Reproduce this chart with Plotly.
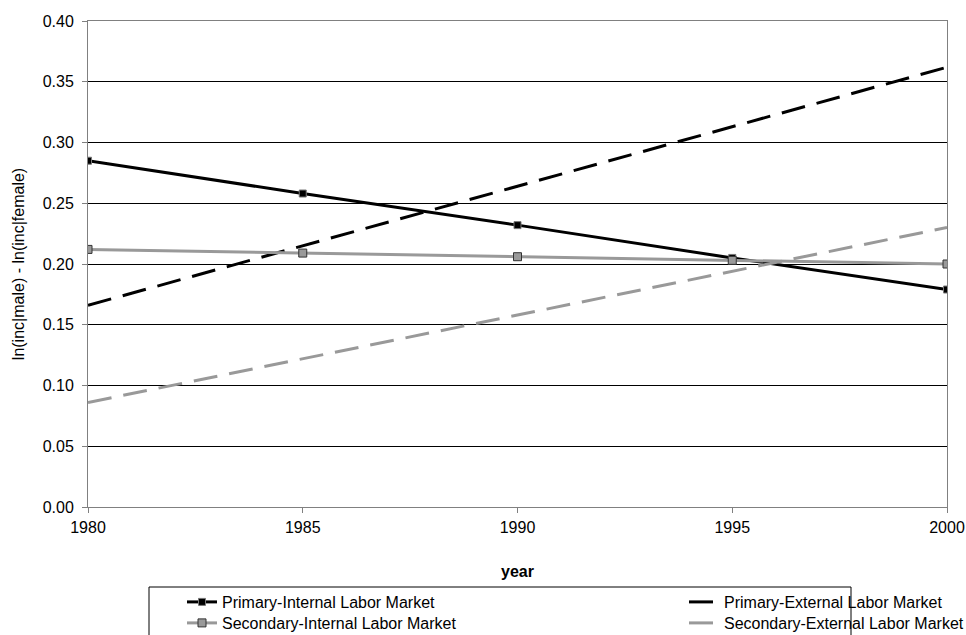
import plotly.graph_objects as go

years = [1980, 1985, 1990, 1995, 2000]
primary_internal = [0.285, 0.258, 0.232, 0.205, 0.179]
secondary_internal = [0.212, 0.209, 0.206, 0.203, 0.200]
primary_external = [0.166, 0.215, 0.264, 0.313, 0.362]
secondary_external = [0.086, 0.122, 0.158, 0.194, 0.230]

names = ["Primary-Internal Labor Market", "Primary-External Labor Market",
         "Secondary-Internal Labor Market", "Secondary-External Labor Market"]

GRAY = "#999999"
fig = go.Figure()
fig.add_trace(go.Scatter(x=years, y=primary_internal, name=names[0], mode="lines+markers",
                         line=dict(color="black", width=3),
                         marker=dict(symbol="square", size=7, color="black",
                                     line=dict(color="#777777", width=1)),
                         legend="legend", showlegend=True))
fig.add_trace(go.Scatter(x=years, y=primary_external, name=names[1], mode="lines",
                         line=dict(color="black", width=3, dash="24px,12px"),
                         legend="legend2", showlegend=True))
fig.add_trace(go.Scatter(x=years, y=secondary_internal, name=names[2], mode="lines+markers",
                         line=dict(color=GRAY, width=3),
                         marker=dict(symbol="square", size=8, color=GRAY,
                                     line=dict(color="#333333", width=1)),
                         legend="legend3", showlegend=True))
fig.add_trace(go.Scatter(x=years, y=secondary_external, name=names[3], mode="lines",
                         line=dict(color=GRAY, width=3, dash="24px,12px"),
                         legend="legend4", showlegend=True))

W, H = 966, 635
L, T = 88, 21
R = W - 947
B = H - 507
pw, ph = W - L - R, H - T - B

def px(xp):
    return (xp - L) / pw

def py(yp):
    return (H - B - yp) / ph

font = dict(family="Liberation Sans, Arial, sans-serif", size=16, color="black")

def leg(xp, yp):
    return dict(x=px(xp), y=py(yp), xanchor="left", yanchor="middle",
                bgcolor="rgba(0,0,0,0)", borderwidth=0, tracegroupgap=0,
                font=font, itemwidth=30, visible=True)

fig.update_layout(
    width=W, height=H,
    showlegend=True,
    margin=dict(l=L, r=R, t=T, b=B, autoexpand=False),
    plot_bgcolor="white", paper_bgcolor="white",
    font=font,
    xaxis=dict(range=[1980, 2000], tickmode="array", tickvals=years,
               ticks="outside", ticklen=5, tickcolor="#808080",
               ticklabelstandoff=1,
               showline=True, linecolor="#808080", linewidth=1, mirror=True,
               showgrid=False, zeroline=False,
               title=dict(text="<b>year</b>", font=dict(size=16), standoff=30)),
    yaxis=dict(range=[0, 0.4], dtick=0.05, tickformat=".2f",
               ticks="outside", ticklen=5, tickcolor="#808080",
               ticklabelstandoff=5,
               showline=True, linecolor="#808080", linewidth=1, mirror=True,
               showgrid=True, gridcolor="black", gridwidth=1, zeroline=False,
               title=dict(text="ln(inc|male) - ln(inc|female)", font=dict(size=16), standoff=14)),
    legend=leg(182, 602),
    legend2=leg(684, 602),
    legend3=leg(182, 623),
    legend4=leg(684, 623),
    shapes=[dict(type="rect", xref="paper", yref="paper",
                 x0=px(149), x1=px(851), y0=py(660), y1=py(587),
                 line=dict(color="black", width=1), fillcolor="rgba(0,0,0,0)")],
)

fig.write_html("out.html", config={"displayModeBar": False},
               post_script="document.body.style.margin='0';document.body.style.overflow='hidden';")
